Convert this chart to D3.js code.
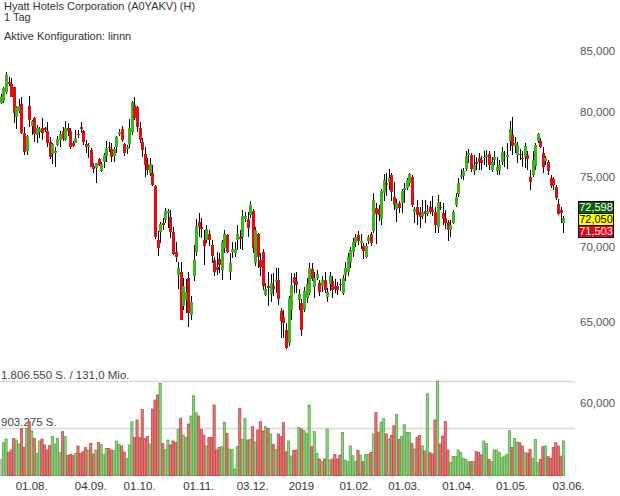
<!DOCTYPE html>
<html><head><meta charset="utf-8">
<script src="https://cdn.jsdelivr.net/npm/d3@7"></script>
<style>
html,body{margin:0;padding:0;background:#fff;}
svg{display:block;font-family:"Liberation Sans",Arial,Helvetica,sans-serif;}
</style></head><body>
<svg id="c" width="620" height="496"></svg>
<script>
// ---------- data ----------
const titleLines = ["Hyatt Hotels Corporation (A0YAKV) (H)", "1 Tag"];
const configText = "Aktive Konfiguration: linnn";
const startDate = "2018-07-16";
const axisEndDate = "2019-06-03";
const holidays = ["2018-09-03","2018-11-22","2018-12-05","2018-12-25","2019-01-01","2019-01-21","2019-02-18","2019-04-19","2019-05-27"];

const open = [80.7,80.9,81.6,82.43,82.24,81.97,79.63,80.1,80.6,78.33,77.0,80.48,78.9,79.55,78.2,78.44,78.71,78.71,78.53,77.7,
76.72,76.85,77.43,77.82,78.53,77.82,78.71,78.53,77.57,77.62,78.3,78.82,78.5,77.51,77.3,77.05,75.85,75.69,76.34,75.49,
76.17,76.6,77.3,77.1,76.6,77.27,78.3,78.65,77.51,77.22,77.51,78.45,80.56,80.37,78.71,77.65,76.72,76.0,75.3,75.3,
74.35,70.49,71.07,71.72,71.9,72.37,72.13,71.07,69.67,68.1,68.33,66.06,66.4,67.9,65.48,68.0,69.65,71.78,71.42,70.49,
70.49,70.91,70.14,69.12,68.66,69.16,68.4,69.92,70.84,68.33,69.67,69.6,70.49,70.72,70.68,71.95,71.95,72.26,72.56,68.9,
70.91,69.12,69.69,66.78,67.33,66.82,67.33,67.6,67.77,65.74,65.32,64.51,63.67,65.8,67.95,67.7,66.45,66.23,65.76,66.55,
66.89,68.48,67.29,67.9,67.55,67.39,67.77,66.64,67.49,67.66,67.38,67.33,67.5,66.89,68.1,68.33,69.0,69.69,70.26,70.82,
70.3,70.07,69.32,70.42,70.91,71.15,72.73,72.66,71.98,73.86,74.6,74.68,75.17,73.53,72.71,73.14,73.14,74.06,74.23,74.56,
75.0,72.5,72.85,72.47,72.18,72.56,72.31,72.82,72.61,72.47,71.37,72.85,72.4,72.05,71.74,71.19,71.71,72.97,73.75,75.05,
75.1,75.6,76.67,76.67,75.5,76.12,76.42,76.29,76.42,76.6,76.75,75.54,76.29,75.5,75.54,76.14,76.42,76.5,77.76,78.2,
77.36,76.67,76.78,76.47,76.55,76.67,75.04,75.17,75.85,77.77,77.77,76.84,76.25,76.17,74.93,74.85,74.28,73.08,72.61,71.7];
const high = [81.4,82.0,83.2,82.84,82.7,82.0,80.48,81.0,81.17,78.84,78.2,81.28,79.37,79.63,78.98,78.84,79.51,78.84,79.23,78.07,
77.57,77.27,78.12,78.53,78.84,79.3,79.15,78.71,77.77,78.59,78.59,79.2,78.59,77.82,77.57,77.17,76.1,76.1,76.44,76.17,
76.8,77.75,77.67,77.62,77.27,78.12,78.65,78.9,77.57,77.43,79.43,80.9,81.22,80.48,79.23,77.95,77.27,76.42,76.42,75.92,
74.43,71.14,71.78,72.07,72.73,72.67,72.61,71.42,70.37,69.0,69.0,67.9,67.8,68.33,66.67,70.14,71.96,72.37,72.02,71.19,
71.55,71.19,70.49,69.35,69.67,69.58,70.49,71.19,70.91,69.58,70.37,70.37,71.55,71.19,72.61,72.49,72.49,73.29,72.67,71.42,
70.96,69.58,69.85,67.55,68.33,68.17,68.21,68.55,68.55,65.91,65.8,64.94,66.67,68.26,68.26,68.3,67.15,66.5,67.26,67.88,
68.89,68.89,68.33,68.44,67.77,68.04,68.33,67.22,68.33,68.0,67.82,67.6,67.8,68.1,69.0,69.58,69.98,70.61,70.91,71.14,
70.9,70.26,70.26,70.84,71.07,73.82,73.1,73.0,74.11,75.25,75.3,75.59,75.3,74.65,73.43,73.26,74.11,74.6,74.93,75.35,
75.17,72.85,73.33,72.85,73.33,73.33,73.0,73.26,73.6,72.85,73.7,73.2,73.1,72.61,71.9,71.9,72.61,73.82,74.93,75.59,
75.67,76.95,77.1,76.84,76.67,76.55,76.8,76.6,76.95,77.05,76.95,76.55,76.95,76.55,76.29,77.3,76.95,77.57,79.3,79.58,
78.07,77.7,77.1,76.95,77.57,76.95,75.54,76.95,77.62,78.33,77.95,77.3,76.6,76.29,75.17,75.05,74.43,73.38,72.85,72.15];
const low = [80.6,80.7,81.4,82.08,81.17,79.15,78.64,79.94,78.28,76.67,76.67,78.84,78.2,77.7,77.57,77.95,77.82,78.45,77.3,76.37,
76.0,75.8,77.36,77.27,77.77,77.77,78.12,77.1,77.27,77.57,77.95,78.38,77.43,76.8,76.42,75.75,75.3,74.6,75.85,75.4,
75.67,76.17,76.92,76.12,76.17,76.82,78.12,77.7,76.6,76.75,77.17,78.2,79.37,78.45,77.57,76.54,75.05,75.17,75.1,74.35,
70.58,69.39,70.26,71.19,71.72,71.32,70.6,69.42,69.0,67.15,65.1,65.8,65.6,64.66,65.1,67.66,69.39,70.72,70.6,68.78,
70.26,70.07,68.9,68.0,68.1,68.26,67.77,69.58,69.58,67.77,69.24,69.3,69.8,69.85,69.8,71.78,70.72,72.02,69.58,68.7,
68.55,68.0,67.11,66.67,66.06,66.28,66.67,66.89,66.13,63.99,63.99,63.26,63.5,65.15,66.89,66.9,65.8,64.13,65.66,66.24,
66.78,67.66,66.56,67.77,66.67,66.95,66.89,66.28,67.0,66.56,66.89,66.78,67.0,66.78,67.66,68.04,68.55,69.35,69.98,70.14,
69.9,69.2,69.24,70.2,70.07,71.0,70.2,71.8,71.55,73.28,73.6,74.06,73.28,72.61,71.78,72.37,72.37,73.14,74.06,74.33,
72.85,71.68,71.55,71.32,72.0,71.68,72.2,72.31,72.2,71.0,71.0,72.6,71.55,71.24,70.4,70.72,71.62,72.8,73.53,74.85,
74.8,75.5,76.05,75.4,75.17,75.54,75.54,75.54,75.92,75.8,75.54,75.4,75.92,75.17,75.17,75.92,75.8,75.6,76.95,76.67,
76.8,76.05,76.3,75.8,75.67,75.54,74.1,75.05,75.54,77.57,77.17,75.3,75.92,75.17,74.18,74.06,73.33,72.26,71.68,71.0];
const close = [81.2,81.9,83.0,82.24,81.22,79.9,80.42,80.48,78.38,76.92,78.12,79.37,79.3,78.28,78.71,78.65,78.38,78.59,77.62,76.54,
77.51,76.95,77.9,78.28,77.87,78.71,78.53,77.27,77.36,77.95,78.25,78.78,77.7,77.3,77.4,75.8,75.64,76.05,75.92,75.97,
76.67,77.2,77.25,76.54,77.15,78.02,78.44,77.82,76.82,77.27,78.71,80.81,79.51,78.84,77.82,77.05,75.92,75.54,76.0,74.43,
70.72,69.92,71.62,71.57,72.56,72.56,71.07,69.54,69.35,68.59,65.15,67.33,66.93,65.57,66.3,69.12,71.48,71.4,71.28,70.07,
71.24,70.49,69.39,68.33,68.44,68.78,70.37,70.91,69.69,68.93,69.9,69.85,70.89,70.58,72.18,72.18,71.32,72.97,69.92,71.19,
69.35,68.66,67.33,67.15,67.24,67.55,67.18,67.77,66.5,65.08,64.94,63.37,66.56,67.44,67.55,67.45,66.85,64.47,67.04,67.51,
68.55,67.81,67.88,68.17,66.99,67.77,67.11,66.94,68.04,67.11,67.16,67.11,67.45,67.88,68.59,69.35,69.8,70.37,70.68,70.42,
70.44,69.75,70.07,70.72,70.3,73.33,72.31,72.26,74.01,74.8,74.43,74.93,73.94,72.97,73.14,72.78,74.01,74.23,74.8,75.25,
72.97,72.65,72.26,72.13,72.47,72.31,72.56,72.47,72.49,71.55,73.21,72.8,71.96,71.67,71.19,71.55,72.47,73.53,74.6,75.17,
75.5,76.6,76.84,75.6,75.92,76.07,76.17,76.1,76.55,76.67,75.92,76.17,76.5,75.8,75.92,76.9,76.55,76.67,78.65,77.35,
77.57,77.43,76.72,76.4,77.36,76.35,74.67,76.29,77.43,78.28,77.3,75.74,76.42,75.49,74.37,74.43,73.46,72.36,72.37,72.05];
// volume in thousand shares
const volume = [312,630,700,446,490,713,681,605,904,541,904,1031,853,713,427,662,700,586,490,573,
745,605,713,439,840,745,382,408,382,427,567,427,458,535,490,617,414,490,637,598,
408,522,522,490,478,662,598,567,452,331,586,1031,726,1063,732,1266,713,745,605,1272,
1444,1540,1762,617,503,681,586,662,637,885,1094,776,726,986,1139,1527,1202,1139,885,776,
567,726,726,1349,490,541,554,1018,808,509,503,128,554,1285,694,1094,681,694,935,643,
872,1031,853,935,904,796,598,503,796,745,1012,458,662,376,478,490,923,891,859,808,
1349,554,840,427,319,268,319,891,300,319,408,319,395,827,300,268,567,382,268,478,
395,268,408,408,446,796,1209,834,1024,1088,796,700,770,954,1171,694,745,973,827,821,
617,509,732,770,573,471,1565,439,414,1063,1806.55,605,757,1031,490,249,363,363,490,439,
331,312,268,268,268,458,446,395,662,617,312,268,490,490,446,344,376,408,859,541,
713,643,630,567,446,427,503,331,694,249,312,554,567,363,331,541,630,567,376,662];
const turnoverMio = 131.0;
const priceTicks = [60,65,70,75,80,85];
const tickDates = ["2018-08-01","2018-09-04","2018-10-01","2018-11-01","2018-12-03","2019-01-02","2019-02-01","2019-03-01","2019-04-01","2019-05-01","2019-06-03"];
const tickLabels = ["01.08.","04.09.","01.10.","01.11.","03.12.","2019","01.02.","01.03.","01.04.","01.05.","03.06."];
const quoteValues = [72.598, 72.050, 71.503];
const quoteFills = ["#0b5e0b", "#ffff00", "#e0001b"];
const quoteText = ["#ffffff", "#000000", "#ffffff"];

// ---------- calendar ----------
const fmtISO = d3.utcFormat("%Y-%m-%d");
const hol = new Set(holidays);
const tradingDays = d3.utcDays(new Date(startDate + "T00:00Z"), d3.utcDay.offset(new Date(axisEndDate + "T00:00Z"), 1))
  .filter(d => d.getUTCDay() !== 0 && d.getUTCDay() !== 6 && !hol.has(fmtISO(d)))
  .map(fmtISO);
const dayIndex = new Map(tradingDays.map((d, i) => [d, i]));

const candles = open.map((o, i) => ({i, date: tradingDays[i], o, h: high[i], l: low[i], c: close[i], v: volume[i] * 1000}));

// ---------- scales ----------
const de = d3.formatLocale({decimal: ",", thousands: ".", grouping: [3], currency: ["", " €"]});
const fmtPrice = de.format(".3f");
const fmtVol = de.format(",.0f");
const fmtMio = de.format(".1f");

const x = d3.scaleLinear().domain([0, dayIndex.get(axisEndDate)]).range([0.9, 568.6]);
const y = d3.scaleLog().domain([60, 85]).range([403, 50.7]);
const vMax = d3.max(candles, d => d.v);
const yv = d3.scaleLinear().domain([0, vMax]).range([475.7, 381]);

const svg = d3.select("#c");
const GREEN = "#3fb31c", RED = "#e00e0e";

// ---------- header texts ----------
svg.append("text").attr("x", 4).attr("y", 9.5).attr("font-size", 11).attr("fill", "#333").text(titleLines[0]);
svg.append("text").attr("x", 4).attr("y", 21).attr("font-size", 11).attr("fill", "#333").text(titleLines[1]);
svg.append("text").attr("x", 4).attr("y", 40).attr("font-size", 11).attr("fill", "#333").text(configText);

// ---------- volume panel ----------
const vGrid = [vMax, vMax / 2];
svg.append("g").selectAll("line").data(vGrid).join("line")
  .attr("x1", 0).attr("x2", 575).attr("y1", d => Math.round(yv(d)) + 0.5).attr("y2", d => Math.round(yv(d)) + 0.5)
  .attr("stroke", "#d8d8d8").attr("stroke-width", 1.5);
svg.append("text").attr("x", 1).attr("y", Math.round(yv(vMax)) - 2.5).attr("font-size", 11.5).attr("fill", "#444")
  .text(fmtVol(vMax) + " S. / " + fmtMio(turnoverMio) + " Mio.");
svg.append("text").attr("x", 1).attr("y", Math.round(yv(vMax / 2)) - 2.5).attr("font-size", 11.5).attr("fill", "#444")
  .text(fmtVol(vMax / 2) + " S.");

const volCol = (d, i) => i === 0 ? ["#c8c8c8", "#999"] : (d.c >= d.o ? ["#93d284", "#4d9f38"] : ["#e27b7b", "#bf3b3b"]);
svg.append("g").selectAll("rect").data(candles).join("rect")
  .attr("x", d => x(d.i) - 1.1).attr("width", 2.2)
  .attr("y", d => yv(d.v)).attr("height", d => yv(0) - yv(d.v))
  .attr("fill", (d, i) => volCol(d, i)[0]).attr("stroke", (d, i) => volCol(d, i)[1]).attr("stroke-width", 0.7);

// ---------- candles ----------
const cg = svg.append("g").attr("shape-rendering", "crispEdges");
cg.selectAll("line").data(candles).join("line")
  .attr("x1", d => Math.round(x(d.i)) + 0.5).attr("x2", d => Math.round(x(d.i)) + 0.5)
  .attr("y1", d => y(d.h)).attr("y2", d => y(d.l))
  .attr("stroke", "#000").attr("stroke-width", 1);
cg.selectAll("rect").data(candles).join("rect")
  .attr("x", d => Math.round(x(d.i)) - 1).attr("width", 3)
  .attr("y", d => Math.min(y(d.o), y(d.c)))
  .attr("height", d => Math.max(1.5, Math.abs(y(d.o) - y(d.c))))
  .attr("fill", d => d.c >= d.o ? GREEN : RED);

// ---------- price axis ----------
svg.append("g").selectAll("text").data(priceTicks).join("text")
  .attr("x", 580).attr("y", d => y(d)).attr("dy", "0.35em")
  .attr("font-size", 11.5).attr("fill", "#555").text(d => fmtPrice(d));

// quote boxes
const qb = svg.append("g");
quoteValues.forEach((v, k) => {
  const top = 201 + k * 12;
  qb.append("rect").attr("x", 578.5).attr("y", top + 0.5).attr("width", 35).attr("height", 12)
    .attr("fill", quoteFills[k]).attr("stroke", "#000").attr("stroke-width", 1);
  qb.append("text").attr("x", 596).attr("y", top + 6.5).attr("dy", "0.36em").attr("text-anchor", "middle")
    .attr("font-size", 11).attr("fill", quoteText[k]).text(fmtPrice(v));
});

// ---------- time axis ----------
svg.append("g").selectAll("text").data(tickDates).join("text")
  .attr("x", d => x(dayIndex.get(d))).attr("y", 490)
  .attr("text-anchor", "middle").attr("font-size", 11.5).attr("fill", "#333")
  .text((d, i) => tickLabels[i]);
</script>
</body></html>
